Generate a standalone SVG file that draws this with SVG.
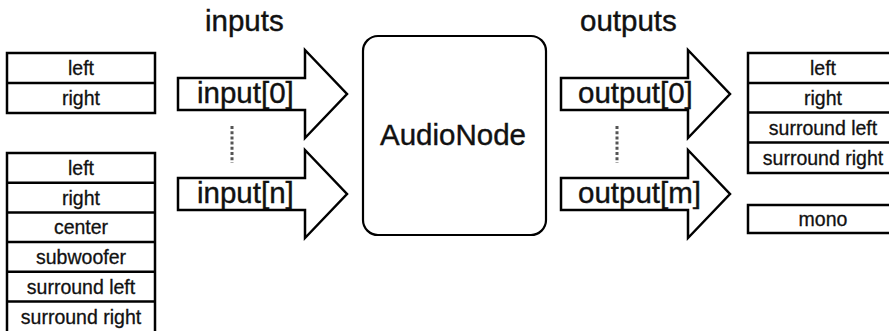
<svg xmlns="http://www.w3.org/2000/svg" width="889" height="331" viewBox="0 0 889 331">
<style>
  .box { fill: #fff; stroke: #000; stroke-width: 2.5; }
  .sep { stroke: #000; stroke-width: 2.5; }
  .small { font-family: "Liberation Sans", Arial, Helvetica, sans-serif; font-size: 19.5px; fill: #111; stroke: #111; stroke-width: 0.3; text-anchor: middle; }
  .big { font-family: "Liberation Sans", Arial, Helvetica, sans-serif; font-size: 29.5px; fill: #111; stroke: #111; stroke-width: 0.4; }
  .arrow { fill: #fff; stroke: #000; stroke-width: 2.5; stroke-linejoin: miter; }
  .node { fill: #fff; stroke: #000; stroke-width: 2.2; }
  .dots { stroke: #555; stroke-width: 3; stroke-dasharray: 3 2.2; fill: none; }
</style>
<rect width="889" height="331" fill="#fff"/>

<g id="stereo-in">
  <rect class="box" x="7" y="53" width="148" height="60"/>
  <line class="sep" x1="7" y1="83" x2="155" y2="83"/>
  <text class="small" x="81" y="75">left</text>
  <text class="small" x="81" y="105">right</text>
</g>

<g id="surround51-in">
  <rect class="box" x="7" y="153" width="148" height="182"/>
  <line class="sep" x1="7" y1="182.7" x2="155" y2="182.7"/>
  <line class="sep" x1="7" y1="212.4" x2="155" y2="212.4"/>
  <line class="sep" x1="7" y1="242.1" x2="155" y2="242.1"/>
  <line class="sep" x1="7" y1="271.8" x2="155" y2="271.8"/>
  <line class="sep" x1="7" y1="301.5" x2="155" y2="301.5"/>
  <text class="small" x="81" y="175">left</text>
  <text class="small" x="81" y="204.5">right</text>
  <text class="small" x="81" y="234">center</text>
  <text class="small" x="81" y="264">subwoofer</text>
  <text class="small" x="81" y="293.5">surround left</text>
  <text class="small" x="81" y="323.5">surround right</text>
</g>

<g id="labels">
  <text class="big" x="205" y="31">inputs</text>
  <text class="big" x="580" y="31">outputs</text>
</g>

<g id="connectors">
  <g id="input0">
    <path class="arrow" d="M178,78 H305 V50 L347,94 L305,138 V110 H178 Z"/>
    <text class="big" x="197" y="103">input[0]</text>
  </g>
  <g id="inputn">
    <path class="arrow" d="M178,178 H305 V150 L347,194 L305,238 V210 H178 Z"/>
    <text class="big" x="197" y="203">input[n]</text>
  </g>
  <g id="output0">
    <path class="arrow" d="M561,78 H688 V50 L730,94 L688,138 V110 H561 Z"/>
    <text class="big" x="578" y="103">output[0]</text>
  </g>
  <g id="outputm">
    <path class="arrow" d="M561,178 H688 V150 L730,194 L688,238 V210 H561 Z"/>
    <text class="big" x="578" y="203">output[m]</text>
  </g>
  <line class="dots" x1="232" y1="126" x2="232" y2="163"/>
  <line class="dots" x1="617" y1="126" x2="617" y2="163"/>
</g>

<g id="audionode">
  <rect class="node" x="363" y="36" width="183" height="199" rx="15" ry="15"/>
  <text class="big" x="453" y="145" text-anchor="middle">AudioNode</text>
</g>

<g id="quad-out">
  <rect class="box" x="748" y="53" width="150" height="120"/>
  <line class="sep" x1="748" y1="83" x2="898" y2="83"/>
  <line class="sep" x1="748" y1="112.5" x2="898" y2="112.5"/>
  <line class="sep" x1="748" y1="142.5" x2="898" y2="142.5"/>
  <text class="small" x="823" y="75">left</text>
  <text class="small" x="823" y="104.7">right</text>
  <text class="small" x="823" y="134.5">surround left</text>
  <text class="small" x="823" y="164.5">surround right</text>
</g>

<g id="mono-out">
  <rect class="box" x="748" y="205" width="150" height="28"/>
  <text class="small" x="823" y="226">mono</text>
</g>
</svg>
